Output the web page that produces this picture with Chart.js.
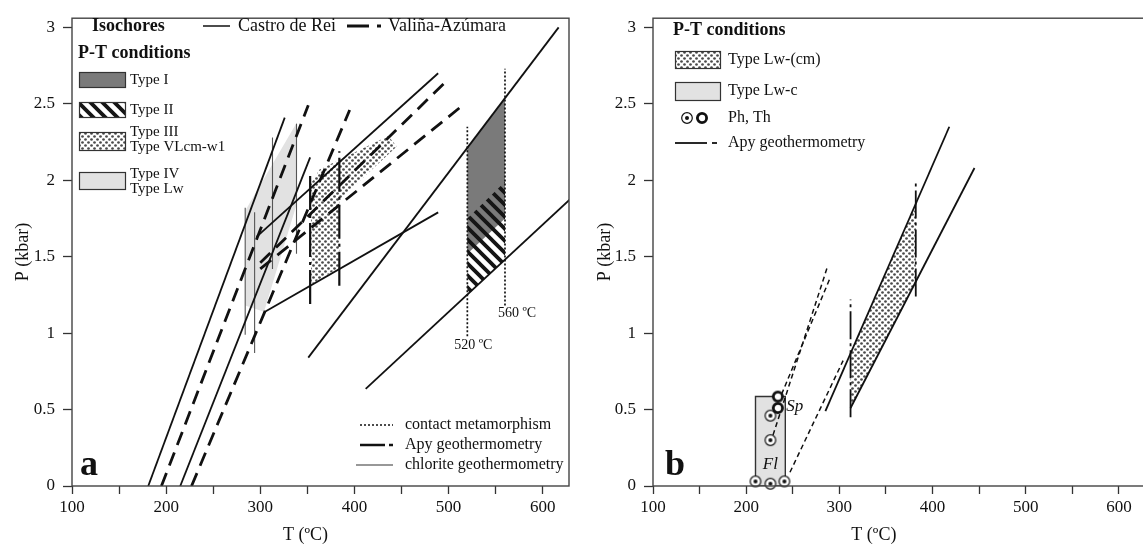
<!DOCTYPE html>
<html>
<head>
<meta charset="utf-8">
<script src="https://cdn.jsdelivr.net/npm/chart.js@4.4.0/dist/chart.umd.min.js"></script>
<style>
  html, body { margin: 0; padding: 0; background: #fff; overflow: hidden; }
  #wrap { position: relative; width: 1143px; height: 552px; overflow: hidden; }
  #chartA { position: absolute; left: 0; top: 0; }
  #chartB { position: absolute; left: 572px; top: 0; }
</style>
</head>
<body>
<div id="wrap">
  <canvas id="chartA" width="572" height="552"></canvas>
  <canvas id="chartB" width="580" height="552"></canvas>
</div>
<script>
// ticks
var xTickLabels = [100, 200, 300, 400, 500, 600];
var yTickLabels = [0, 0.5, 1, 1.5, 2, 2.5, 3];

// ---- panel a : [T (ºC), P (kbar)] ----
var castroIsochores = [
  [[181, 0], [326, 2.41]],
  [[215, 0], [353, 2.15]],
  [[296, 1.63], [489, 2.70]],
  [[305, 1.14], [489, 1.79]],
  [[351, 0.84], [617, 3.0]],
  [[412, 0.635], [630, 1.88]]
];
var valinaIsochores = [
  [[195, 0], [351, 2.49]],
  [[227, 0], [395, 2.46]],
  [[300, 1.46], [498, 2.65]],
  [[300, 1.42], [515, 2.49]]
];
var contactLines = [
  [[520, 0.98], [520, 2.35]],
  [[560, 1.18], [560, 2.73]]
];
var apyLinesA = [
  [[353, 1.19], [353, 2.03]],
  [[384, 1.31], [384, 2.19]]
];
var chloriteLines = [
  [[284, 0.99], [284, 1.82]],
  [[294, 0.87], [294, 1.79]],
  [[313, 1.42], [313, 2.28]],
  [[338.5, 1.52], [338.5, 2.37]]
];
var typeI = [[520, 1.52], [520, 2.21], [560, 2.54], [560, 1.75]];
var typeII = [[520, 1.25], [520, 1.75], [560, 1.99], [560, 1.48]];
var typeIII = [[354, 1.32], [354, 1.98], [363, 2.07], [436, 2.29], [445, 2.22], [384, 1.87], [384, 1.43]];
var typeIV = [[284, 1.18], [284, 1.80], [339, 2.38], [339, 1.85], [304, 1.14]];

// ---- panel b ----
var typeLwc = [[210, 0], [210, 0.585], [242, 0.585], [242, 0]];
var typeLwcm = [[312, 0.51], [312, 0.87], [382, 1.84], [382, 1.33]];
var apyLinesB = [
  [[285, 0.49], [418, 2.35]],
  [[312, 0.51], [445, 2.08]]
];
var apyVertB = [
  [[312, 0.45], [312, 1.22]],
  [[382, 1.24], [382, 1.99]]
];
var isochoresB = [
  [[226, 0.28], [287, 1.43]],
  [[238, 0.60], [290, 1.36]],
  [[247, 0.09], [304, 0.82]]
];
var phPoints = [[210, 0.03], [226, 0.015], [241, 0.03], [226, 0.30], [226, 0.46]];
var thPoints = [[234, 0.585], [234, 0.51]];

var SERIF = '"Liberation Serif", "Times New Roman", serif';

// fill patterns
function dotPattern() {
  var c = document.createElement('canvas');
  c.width = 6; c.height = 6;
  var g = c.getContext('2d');
  g.fillStyle = '#fff';
  g.fillRect(0, 0, 6, 6);
  g.fillStyle = '#4a4a4a';
  g.beginPath(); g.arc(1.5, 1.5, 1.35, 0, Math.PI * 2); g.fill();
  g.beginPath(); g.arc(4.5, 4.5, 1.35, 0, Math.PI * 2); g.fill();
  return g.createPattern(c, 'repeat');
}
function hatchPattern() {
  var c = document.createElement('canvas');
  c.width = 12; c.height = 12;
  var g = c.getContext('2d');
  g.strokeStyle = '#151515';
  g.lineWidth = 3.8;
  g.beginPath();
  g.moveTo(-6, -6); g.lineTo(18, 18);
  g.moveTo(-6, 6); g.lineTo(6, 18);
  g.moveTo(6, -6); g.lineTo(18, 6);
  g.stroke();
  return g.createPattern(c, 'repeat');
}
function ringImage(thick) {
  var c = document.createElement('canvas');
  c.width = 14; c.height = 14;
  var g = c.getContext('2d');
  g.beginPath();
  g.arc(7, 7, thick ? 4.6 : 5.3, 0, Math.PI * 2);
  g.fillStyle = '#fff'; g.fill();
  g.lineWidth = thick ? 2.8 : 1.2;
  g.strokeStyle = '#111'; g.stroke();
  if (!thick) {
    g.beginPath(); g.arc(7, 7, 2, 0, Math.PI * 2);
    g.fillStyle = '#111'; g.fill();
  }
  return c;
}
var DOTS = dotPattern();
var HATCH = hatchPattern();
var DARK = '#7a7a7a';
var LIGHT = '#e2e2e2';

function pts(arr) {
  return arr.map(function (p) { return {x: p[0], y: p[1]}; });
}
function lineSet(arr, w, dash, color) {
  return {data: pts(arr), borderColor: color || '#111', borderWidth: w, borderDash: dash || [],
    pointRadius: 0, fill: false, tension: 0, borderCapStyle: 'butt'};
}
function areaSet(arr, bg, edge) {
  return {data: pts(arr), backgroundColor: bg, borderColor: edge || 'rgba(0,0,0,0)',
    borderWidth: edge ? 1.4 : 1, pointRadius: 0, fill: 'shape', tension: 0};
}
function pointSet(arr, img) {
  return {data: pts(arr), showLine: false, pointStyle: img, pointRadius: 6, clip: false};
}

// drawing helpers for legends / labels
function txt(ctx, s, x, y, size, style, align) {
  ctx.font = (style ? style + ' ' : '') + size + 'px ' + SERIF;
  ctx.fillStyle = '#111';
  ctx.textAlign = align || 'left';
  ctx.textBaseline = 'middle';
  ctx.fillText(s, x, y);
}
function seg(ctx, x1, y1, x2, y2, w, dash, color) {
  ctx.beginPath();
  ctx.setLineDash(dash || []);
  ctx.lineWidth = w;
  ctx.strokeStyle = color || '#111';
  ctx.moveTo(x1, y1); ctx.lineTo(x2, y2);
  ctx.stroke();
  ctx.setLineDash([]);
}
function box(ctx, x, y, w, h, fill) {
  ctx.fillStyle = '#fff'; ctx.fillRect(x, y, w, h);
  ctx.fillStyle = fill; ctx.fillRect(x, y, w, h);
  ctx.lineWidth = 1.2; ctx.strokeStyle = '#333';
  ctx.strokeRect(x + 0.5, y + 0.5, w, h);
}
function frame(ctx, a) {
  ctx.lineWidth = 1.4; ctx.strokeStyle = '#444';
  ctx.strokeRect(a.left, a.top, a.right - a.left, a.bottom - a.top);
}

function makeScales(yWidth, titleGap) {
  return {
    x: {
      type: 'linear', min: 100, max: 628,
      afterFit: function (s) { s.height = 66; },
      ticks: {stepSize: 50, includeBounds: false, autoSkip: false, maxRotation: 0, padding: 3,
        color: '#111', font: {family: SERIF, size: 17},
        callback: function (v) { return xTickLabels.indexOf(v) >= 0 ? String(v) : ''; }},
      grid: {drawOnChartArea: false, drawTicks: true, tickLength: 8, tickColor: '#333', tickWidth: 1.3},
      border: {display: false}
    },
    y: {
      type: 'linear', min: 0, max: 3.06,
      afterFit: function (s) { s.width = yWidth; },
      ticks: {stepSize: 0.5, includeBounds: false, autoSkip: false, padding: 8,
        color: '#111', font: {family: SERIF, size: 17},
        callback: function (v) { return yTickLabels.indexOf(v) >= 0 ? String(v) : ''; }},
      grid: {drawOnChartArea: false, drawTicks: true, tickLength: 9, tickColor: '#333', tickWidth: 1.3},
      border: {display: false},
      title: {display: true, text: 'P (kbar)', color: '#111', font: {family: SERIF, size: 18},
        padding: {top: titleGap, bottom: 0}}
    }
  };
}

// ---------- panel a ----------
var dsA = [];
castroIsochores.forEach(function (l) { dsA.push(lineSet(l, 1.8)); });
valinaIsochores.forEach(function (l) { dsA.push(lineSet(l, 2.8, [14, 8])); });
contactLines.forEach(function (l) { dsA.push(lineSet(l, 1.7, [2, 2])); });
apyLinesA.forEach(function (l) { dsA.push(lineSet(l, 2.2, [34, 5, 3, 5])); });
chloriteLines.forEach(function (l) { dsA.push(lineSet(l, 1.1, [], '#555')); });
dsA.push(areaSet(typeII, HATCH));
dsA.push(areaSet(typeI, DARK));
dsA.push(areaSet(typeIII, DOTS));
dsA.push(areaSet(typeIV, LIGHT));

var decorA = {
  id: 'decorA',
  afterDraw: function (chart) {
    var ctx = chart.ctx, a = chart.chartArea, x = chart.scales.x;
    ctx.save();
    frame(ctx, a);
    txt(ctx, 'T (ºC)', x.getPixelForValue(348), 535, 18, '', 'center');
    // isochore legend
    txt(ctx, 'Isochores', 92, 26, 18, 'bold');
    seg(ctx, 203, 26, 230, 26, 1.5);
    txt(ctx, 'Castro de Rei', 238, 26, 18);
    seg(ctx, 347, 26, 369, 26, 3);
    seg(ctx, 377, 26, 381, 26, 3);
    txt(ctx, 'Valiña-Azúmara', 388, 26, 18);
    // P-T legend
    txt(ctx, 'P-T conditions', 78, 53, 18, 'bold');
    box(ctx, 79, 72, 46, 15, DARK);
    txt(ctx, 'Type I', 130, 80, 15);
    box(ctx, 79, 102, 46, 15, HATCH);
    txt(ctx, 'Type II', 130, 110, 15);
    box(ctx, 79, 132, 46, 18, DOTS);
    txt(ctx, 'Type III', 130, 132, 15);
    txt(ctx, 'Type VLcm-w1', 130, 147, 15);
    box(ctx, 79, 172, 46, 17, LIGHT);
    txt(ctx, 'Type IV', 130, 174, 15);
    txt(ctx, 'Type Lw', 130, 189, 15);
    // line legend
    seg(ctx, 360, 425, 393, 425, 1.7, [2, 2]);
    txt(ctx, 'contact metamorphism', 405, 425, 16);
    seg(ctx, 360, 445, 385, 445, 2.5);
    seg(ctx, 389, 445, 393, 445, 2.5);
    txt(ctx, 'Apy geothermometry', 405, 445, 16);
    seg(ctx, 356, 465, 393, 465, 1.2, [], '#333');
    txt(ctx, 'chlorite geothermometry', 405, 465, 16);
    // labels
    txt(ctx, '520 ºC', x.getPixelForValue(520) + 6, 345, 14, '', 'center');
    txt(ctx, '560 ºC', x.getPixelForValue(560) + 12, 313, 14, '', 'center');
    txt(ctx, 'a', 80, 466, 36, 'bold');
    ctx.restore();
  }
};

new Chart(document.getElementById('chartA'), {
  type: 'line',
  data: {datasets: dsA},
  options: {
    responsive: false, animation: false, events: [],
    layout: {padding: {left: 0, right: 3, top: 9, bottom: 0}},
    plugins: {legend: {display: false}, tooltip: {enabled: false}},
    scales: makeScales(72, 12)
  },
  plugins: [decorA]
});

// ---------- panel b ----------
var ringPh = ringImage(false), ringTh = ringImage(true);
var dsB = [];
dsB.push(pointSet(thPoints, ringTh));
dsB.push(pointSet(phPoints, ringPh));
apyLinesB.forEach(function (l) { dsB.push(lineSet(l, 1.8)); });
apyVertB.forEach(function (l) { dsB.push(lineSet(l, 1.8, [28, 4, 3, 4])); });
isochoresB.forEach(function (l) { dsB.push(lineSet(l, 1.5, [5, 3.5])); });
dsB.push(areaSet(typeLwcm, DOTS));
dsB.push(areaSet(typeLwc.concat([typeLwc[0]]), LIGHT, '#333'));

var decorB = {
  id: 'decorB',
  afterDraw: function (chart) {
    var ctx = chart.ctx, a = chart.chartArea, x = chart.scales.x, y = chart.scales.y;
    var o = -572;
    ctx.save();
    frame(ctx, a);
    txt(ctx, 'T (ºC)', x.getPixelForValue(337), 535, 18, '', 'center');
    txt(ctx, 'P-T conditions', 673 + o, 30, 18, 'bold');
    box(ctx, 675 + o, 51, 45, 17, DOTS);
    txt(ctx, 'Type Lw-(cm)', 728 + o, 60, 16);
    box(ctx, 675 + o, 82, 45, 18, LIGHT);
    txt(ctx, 'Type Lw-c', 728 + o, 91, 16);
    ctx.drawImage(ringPh, 687 + o - 7, 118 - 7);
    ctx.drawImage(ringTh, 702 + o - 7, 118 - 7);
    txt(ctx, 'Ph, Th', 728 + o, 118, 16);
    seg(ctx, 675 + o, 143, 707 + o, 143, 1.8);
    seg(ctx, 712 + o, 143, 717 + o, 143, 1.8);
    txt(ctx, 'Apy geothermometry', 728 + o, 143, 16);
    txt(ctx, 'Fl', x.getPixelForValue(226), y.getPixelForValue(0.14), 17, 'italic', 'center');
    txt(ctx, 'Sp', x.getPixelForValue(243), y.getPixelForValue(0.52), 17, 'italic');
    txt(ctx, 'b', 665 + o, 466, 36, 'bold');
    ctx.restore();
  }
};

new Chart(document.getElementById('chartB'), {
  type: 'line',
  data: {datasets: dsB},
  options: {
    responsive: false, animation: false, events: [],
    layout: {padding: {left: 0, right: 0, top: 9, bottom: 0}},
    plugins: {legend: {display: false}, tooltip: {enabled: false}},
    scales: makeScales(81, 22)
  },
  plugins: [decorB]
});
</script>
</body>
</html>
